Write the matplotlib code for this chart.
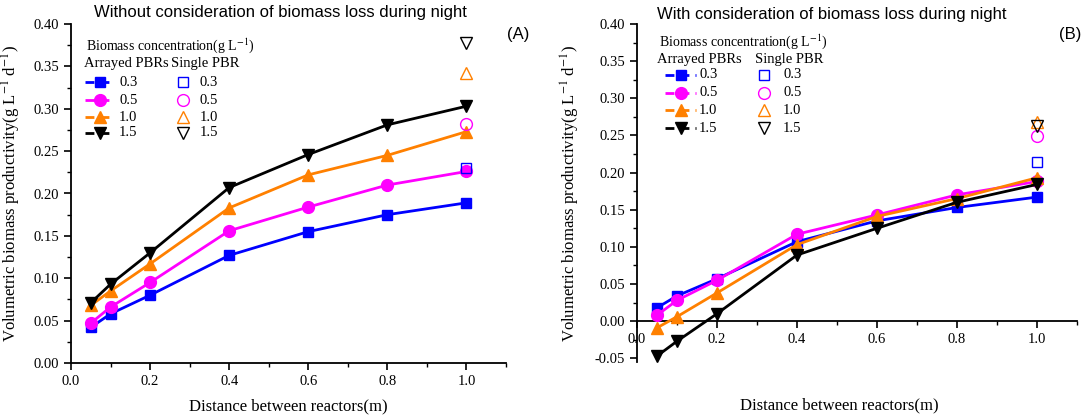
import matplotlib
matplotlib.use("Agg")
import matplotlib.pyplot as plt
from matplotlib.ticker import MultipleLocator, FormatStrFormatter

# ---------------- data ----------------
distance = [0.05, 0.1, 0.2, 0.4, 0.6, 0.8, 1.0]
concentrations = ["0.3", "0.5", "1.0", "1.5"]

# Panel A: without biomass loss during night (arrayed PBRs)
a_03 = [0.042, 0.058, 0.080, 0.127, 0.155, 0.175, 0.189]
a_05 = [0.047, 0.066, 0.095, 0.156, 0.184, 0.210, 0.226]
a_10 = [0.068, 0.085, 0.117, 0.183, 0.222, 0.245, 0.273]
a_15 = [0.071, 0.093, 0.130, 0.207, 0.246, 0.281, 0.303]
# single PBR at distance 1.0
a_single = [0.230, 0.282, 0.342, 0.377]

# Panel B: with biomass loss during night (arrayed PBRs)
b_03 = [0.018, 0.034, 0.057, 0.107, 0.135, 0.153, 0.167]
b_05 = [0.008, 0.028, 0.055, 0.117, 0.143, 0.170, 0.188]
b_10 = [-0.009, 0.006, 0.038, 0.103, 0.141, 0.165, 0.193]
b_15 = [-0.047, -0.027, 0.010, 0.089, 0.125, 0.160, 0.184]
b_single = [0.214, 0.249, 0.268, 0.263]
single_x = 1.0

colors = ["#0000ff", "#ff00ff", "#ff8000", "#000000"]
markers = ["s", "o", "^", "v"]
msizes = [7.5, 8.5, 9, 9]

SERIF = ["Liberation Serif", "DejaVu Serif"]
SANS = ["Liberation Sans", "DejaVu Sans"]
plt.rcParams["font.family"] = SERIF
plt.rcParams["mathtext.fontset"] = "stix"

W, H = 1089, 415
fig = plt.figure(figsize=(W / 100, H / 100), dpi=100)


def px_rect(l, r, t, b):
    return [l / W, 1 - b / H, (r - l) / W, (b - t) / H]


def fxy(x, y):
    return (x / W, 1 - y / H)


axA = fig.add_axes(px_rect(71, 506, 24, 363))
axB = fig.add_axes(px_rect(637, 1077, 24, 362))


def style_axis(ax, ymin, ymax):
    ax.set_xlim(0, 1.1)
    ax.set_ylim(ymin, ymax)
    ax.spines["top"].set_visible(False)
    ax.spines["right"].set_visible(False)
    ax.xaxis.set_major_locator(MultipleLocator(0.2))
    ax.xaxis.set_minor_locator(MultipleLocator(0.1))
    ax.yaxis.set_major_locator(MultipleLocator(0.05))
    ax.yaxis.set_minor_locator(MultipleLocator(0.025))
    ax.xaxis.set_major_formatter(FormatStrFormatter("%.1f"))
    ax.yaxis.set_major_formatter(FormatStrFormatter("%.2f"))
    ax.tick_params(which="major", direction="out", length=5, width=1.2,
                   labelsize=10.5)
    ax.tick_params(which="minor", direction="out", length=3, width=1.0)
    for sp in ("left", "bottom"):
        ax.spines[sp].set_linewidth(1.3)
    ax.set_xlabel("Distance between reactors(m)", fontsize=12)
    ax.set_ylabel("Volumetric biomass productivity(g L$^{-1}$ d$^{-1}$)",
                  fontsize=12)


def plot_panel(ax, series, single):
    for vals, c, m, ms in zip(series, colors, markers, msizes):
        ax.plot(distance, vals, color=c, lw=2.0, marker=m, markersize=ms,
                markerfacecolor=c, markeredgecolor=c, zorder=3)
    for val, c, m, ms in zip(single, colors, markers, msizes):
        ax.plot([single_x], [val], linestyle="none", marker=m, markersize=ms,
                markerfacecolor="none", markeredgecolor=c, markeredgewidth=1.0,
                zorder=4)


plot_panel(axA, [a_03, a_05, a_10, a_15], a_single)
plot_panel(axB, [b_03, b_05, b_10, b_15], b_single)
style_axis(axA, 0.0, 0.40)
style_axis(axB, -0.055, 0.40)
axB.spines["bottom"].set_position(("data", 0.0))
axA.xaxis.set_label_coords(0.5, -0.105)
axB.xaxis.set_label_coords(0.46, -0.105)
axA.yaxis.set_label_coords(-0.11, 0.5)
axB.yaxis.set_label_coords(-0.125, 0.5)

# titles and panel letters
fig.text(*fxy(280, 13), "Without consideration of biomass loss during night",
         ha="center", va="center", fontsize=12, family=SANS)
fig.text(*fxy(832, 15), "With consideration of biomass loss during night",
         ha="center", va="center", fontsize=12, family=SANS)
fig.text(*fxy(518, 34), "(A)", ha="center", va="center", fontsize=12,
         family=SANS)
fig.text(*fxy(1070, 35), "(B)", ha="center", va="center", fontsize=12,
         family=SANS)


def draw_legend(hx, hy, ay, sx, ey, lx0, lx1, mx, tx, smx, stx):
    fig.text(*fxy(hx, hy), "Biomass concentration(g L$^{-1}$)", ha="left",
             va="center", fontsize=10)
    fig.text(*fxy(hx - 2, ay), "Arrayed PBRs", ha="left", va="center",
             fontsize=10.5)
    fig.text(*fxy(sx, ay), "Single PBR", ha="left", va="center",
             fontsize=10.5)
    for i, (lab, c, m, ms) in enumerate(zip(concentrations, colors, markers,
                                            msizes)):
        y = ey[i]
        x0, y0 = fxy(lx0, y)
        x1, _ = fxy(lx1, y)
        fig.add_artist(plt.Line2D([x0, x1], [y0, y0], color=c, lw=2.0,
                                  linestyle=(0, (3.2, 2.2)),
                                  transform=fig.transFigure))
        xm, _ = fxy(mx, y)
        fig.add_artist(plt.Line2D([xm], [y0], color=c, marker=m,
                                  markersize=ms, linestyle="none",
                                  transform=fig.transFigure))
        fig.text(*fxy(tx, y), lab, ha="left", va="center", fontsize=10.5)
        xs, _ = fxy(smx, y)
        fig.add_artist(plt.Line2D([xs], [y0], marker=m, markersize=ms,
                                  markerfacecolor="none", markeredgecolor=c,
                                  markeredgewidth=1.0, linestyle="none",
                                  transform=fig.transFigure))
        fig.text(*fxy(stx, y), lab, ha="left", va="center", fontsize=10.5)


draw_legend(86, 46, 64, 171, [82, 100, 117, 133], 85, 115, 100, 119, 183, 200)
draw_legend(659, 42, 59, 755, [75, 93, 110, 128], 665, 696, 681, 699, 764, 783)

fig.savefig("out.png", dpi=100)
